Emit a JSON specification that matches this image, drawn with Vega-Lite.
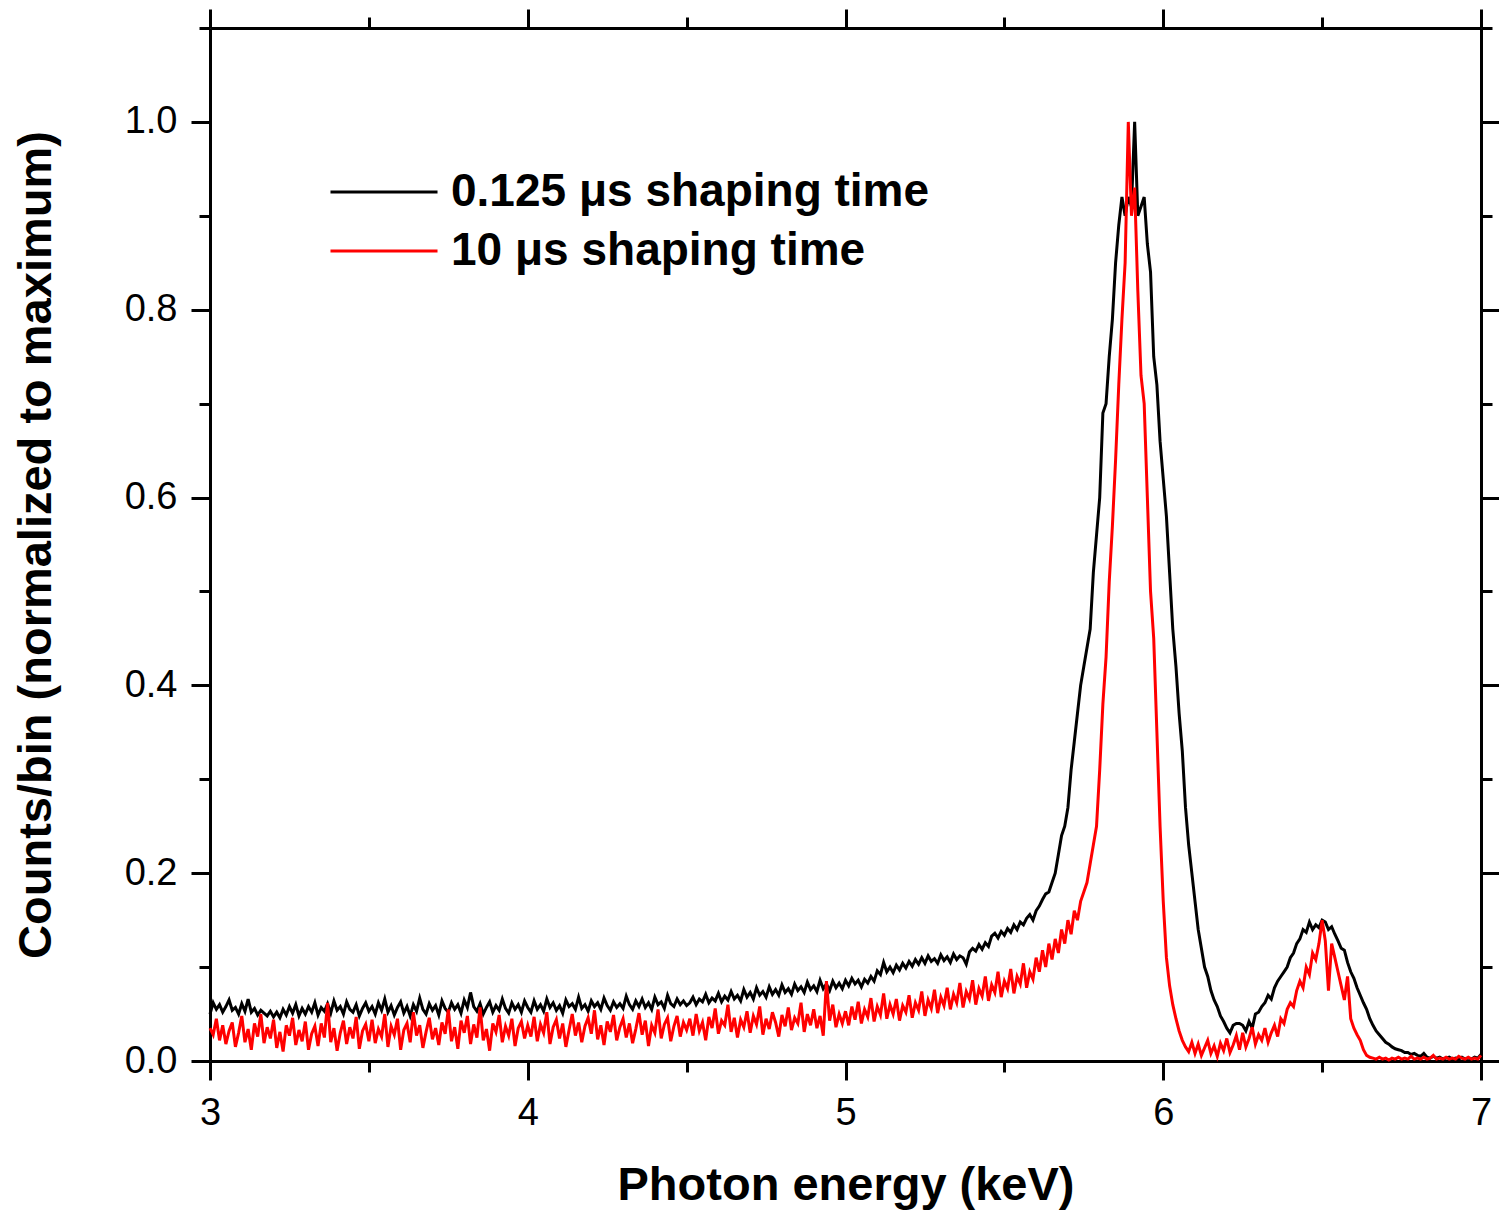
{
"$schema": "https://vega.github.io/schema/vega-lite/v6.json",
"width": 1271, "height": 1033,
"autosize": {"type": "none"},
"padding": {"left": 210, "top": 28, "right": 18, "bottom": 156},
"background": "white",
"config": {
  "view": {"stroke": null},
  "axis": {"domainColor": "black", "domainWidth": 3, "tickColor": "black", "tickWidth": 3, "grid": false,
    "labelFont": "Liberation Sans", "labelFontSize": 38, "labelColor": "black",
    "titleFont": "Liberation Sans", "titleFontSize": 47, "titleFontWeight": "bold", "titleColor": "black"}
},
"data": {"values": [
{"e":3,"k":0.050,"r":0.035},{"e":3.01,"k":0.062,"r":0.028},{"e":3.02,"k":0.055,"r":0.045},{"e":3.03,"k":0.060,"r":0.022},{"e":3.04,"k":0.052,"r":0.038},
{"e":3.05,"k":0.058,"r":0.018},{"e":3.06,"k":0.065,"r":0.032},{"e":3.07,"k":0.054,"r":0.041},{"e":3.08,"k":0.057,"r":0.015},{"e":3.09,"k":0.050,"r":0.030},
{"e":3.1,"k":0.061,"r":0.048},{"e":3.11,"k":0.053,"r":0.020},{"e":3.12,"k":0.066,"r":0.034},{"e":3.13,"k":0.052,"r":0.012},{"e":3.14,"k":0.056,"r":0.040},
{"e":3.15,"k":0.049,"r":0.026},{"e":3.16,"k":0.054,"r":0.050},{"e":3.17,"k":0.051,"r":0.019},{"e":3.18,"k":0.048,"r":0.036},{"e":3.19,"k":0.053,"r":0.024},
{"e":3.2,"k":0.047,"r":0.044},{"e":3.21,"k":0.052,"r":0.014},{"e":3.22,"k":0.046,"r":0.031},{"e":3.23,"k":0.055,"r":0.010},{"e":3.24,"k":0.049,"r":0.038},
{"e":3.25,"k":0.058,"r":0.027},{"e":3.26,"k":0.051,"r":0.046},{"e":3.27,"k":0.060,"r":0.017},{"e":3.28,"k":0.048,"r":0.033},{"e":3.29,"k":0.056,"r":0.021},
{"e":3.3,"k":0.050,"r":0.042},{"e":3.31,"k":0.058,"r":0.012},{"e":3.32,"k":0.052,"r":0.029},{"e":3.33,"k":0.062,"r":0.037},{"e":3.34,"k":0.049,"r":0.016},
{"e":3.35,"k":0.057,"r":0.040},{"e":3.36,"k":0.053,"r":0.025},{"e":3.37,"k":0.061,"r":0.062},{"e":3.38,"k":0.051,"r":0.020},{"e":3.39,"k":0.064,"r":0.035},
{"e":3.4,"k":0.054,"r":0.011},{"e":3.41,"k":0.058,"r":0.030},{"e":3.42,"k":0.050,"r":0.043},{"e":3.43,"k":0.063,"r":0.018},{"e":3.44,"k":0.055,"r":0.036},
{"e":3.45,"k":0.052,"r":0.024},{"e":3.46,"k":0.060,"r":0.047},{"e":3.47,"k":0.048,"r":0.013},{"e":3.48,"k":0.056,"r":0.032},{"e":3.49,"k":0.062,"r":0.039},
{"e":3.5,"k":0.053,"r":0.021},{"e":3.51,"k":0.058,"r":0.044},{"e":3.52,"k":0.050,"r":0.019},{"e":3.53,"k":0.062,"r":0.034},{"e":3.54,"k":0.054,"r":0.026},
{"e":3.55,"k":0.066,"r":0.050},{"e":3.56,"k":0.052,"r":0.015},{"e":3.57,"k":0.059,"r":0.037},{"e":3.58,"k":0.049,"r":0.028},{"e":3.59,"k":0.057,"r":0.045},
{"e":3.6,"k":0.063,"r":0.012},{"e":3.61,"k":0.051,"r":0.033},{"e":3.62,"k":0.058,"r":0.040},{"e":3.63,"k":0.048,"r":0.020},{"e":3.64,"k":0.060,"r":0.052},
{"e":3.65,"k":0.053,"r":0.027},{"e":3.66,"k":0.067,"r":0.038},{"e":3.67,"k":0.055,"r":0.014},{"e":3.68,"k":0.050,"r":0.031},{"e":3.69,"k":0.061,"r":0.046},
{"e":3.7,"k":0.054,"r":0.023},{"e":3.71,"k":0.059,"r":0.035},{"e":3.72,"k":0.049,"r":0.017},{"e":3.73,"k":0.064,"r":0.041},{"e":3.74,"k":0.056,"r":0.029},
{"e":3.75,"k":0.052,"r":0.055},{"e":3.76,"k":0.062,"r":0.021},{"e":3.77,"k":0.055,"r":0.036},{"e":3.78,"k":0.060,"r":0.013},{"e":3.79,"k":0.051,"r":0.043},
{"e":3.8,"k":0.065,"r":0.030},{"e":3.81,"k":0.057,"r":0.048},{"e":3.82,"k":0.073,"r":0.018},{"e":3.83,"k":0.058,"r":0.039},{"e":3.84,"k":0.053,"r":0.025},
{"e":3.85,"k":0.061,"r":0.057},{"e":3.86,"k":0.050,"r":0.022},{"e":3.87,"k":0.057,"r":0.034},{"e":3.88,"k":0.063,"r":0.011},{"e":3.89,"k":0.052,"r":0.040},
{"e":3.9,"k":0.059,"r":0.031},{"e":3.91,"k":0.054,"r":0.049},{"e":3.92,"k":0.066,"r":0.020},{"e":3.93,"k":0.056,"r":0.037},{"e":3.94,"k":0.051,"r":0.027},
{"e":3.95,"k":0.062,"r":0.045},{"e":3.96,"k":0.055,"r":0.016},{"e":3.97,"k":0.060,"r":0.035},{"e":3.98,"k":0.052,"r":0.042},{"e":3.99,"k":0.064,"r":0.024},
{"e":4,"k":0.057,"r":0.038},{"e":4.01,"k":0.052,"r":0.026},{"e":4.02,"k":0.064,"r":0.047},{"e":4.03,"k":0.055,"r":0.021},{"e":4.04,"k":0.060,"r":0.039},
{"e":4.05,"k":0.053,"r":0.030},{"e":4.06,"k":0.066,"r":0.052},{"e":4.07,"k":0.057,"r":0.018},{"e":4.08,"k":0.062,"r":0.036},{"e":4.09,"k":0.054,"r":0.044},
{"e":4.1,"k":0.059,"r":0.024},{"e":4.11,"k":0.051,"r":0.040},{"e":4.12,"k":0.065,"r":0.015},{"e":4.13,"k":0.058,"r":0.033},{"e":4.14,"k":0.061,"r":0.050},
{"e":4.15,"k":0.055,"r":0.027},{"e":4.16,"k":0.068,"r":0.041},{"e":4.17,"k":0.056,"r":0.020},{"e":4.18,"k":0.060,"r":0.037},{"e":4.19,"k":0.053,"r":0.046},
{"e":4.2,"k":0.064,"r":0.029},{"e":4.21,"k":0.058,"r":0.054},{"e":4.22,"k":0.062,"r":0.023},{"e":4.23,"k":0.055,"r":0.038},{"e":4.24,"k":0.067,"r":0.017},
{"e":4.25,"k":0.059,"r":0.042},{"e":4.26,"k":0.054,"r":0.031},{"e":4.27,"k":0.063,"r":0.049},{"e":4.28,"k":0.057,"r":0.022},{"e":4.29,"k":0.061,"r":0.036},
{"e":4.3,"k":0.056,"r":0.045},{"e":4.31,"k":0.069,"r":0.025},{"e":4.32,"k":0.060,"r":0.040},{"e":4.33,"k":0.055,"r":0.019},{"e":4.34,"k":0.064,"r":0.034},
{"e":4.35,"k":0.058,"r":0.051},{"e":4.36,"k":0.066,"r":0.028},{"e":4.37,"k":0.057,"r":0.043},{"e":4.38,"k":0.062,"r":0.016},{"e":4.39,"k":0.055,"r":0.038},
{"e":4.4,"k":0.068,"r":0.030},{"e":4.41,"k":0.060,"r":0.055},{"e":4.42,"k":0.063,"r":0.024},{"e":4.43,"k":0.056,"r":0.039},{"e":4.44,"k":0.070,"r":0.046},
{"e":4.45,"k":0.061,"r":0.021},{"e":4.46,"k":0.058,"r":0.037},{"e":4.47,"k":0.066,"r":0.048},{"e":4.48,"k":0.060,"r":0.026},{"e":4.49,"k":0.064,"r":0.041},
{"e":4.5,"k":0.059,"r":0.033},{"e":4.51,"k":0.062,"r":0.045},{"e":4.52,"k":0.068,"r":0.027},{"e":4.53,"k":0.060,"r":0.050},{"e":4.54,"k":0.066,"r":0.032},
{"e":4.55,"k":0.063,"r":0.041},{"e":4.56,"k":0.071,"r":0.022},{"e":4.57,"k":0.062,"r":0.047},{"e":4.58,"k":0.067,"r":0.035},{"e":4.59,"k":0.064,"r":0.056},
{"e":4.6,"k":0.072,"r":0.029},{"e":4.61,"k":0.063,"r":0.043},{"e":4.62,"k":0.069,"r":0.038},{"e":4.63,"k":0.065,"r":0.060},{"e":4.64,"k":0.074,"r":0.031},
{"e":4.65,"k":0.066,"r":0.046},{"e":4.66,"k":0.070,"r":0.025},{"e":4.67,"k":0.064,"r":0.044},{"e":4.68,"k":0.076,"r":0.036},{"e":4.69,"k":0.068,"r":0.053},
{"e":4.7,"k":0.073,"r":0.030},{"e":4.71,"k":0.066,"r":0.048},{"e":4.72,"k":0.078,"r":0.039},{"e":4.73,"k":0.070,"r":0.058},{"e":4.74,"k":0.074,"r":0.028},
{"e":4.75,"k":0.068,"r":0.045},{"e":4.76,"k":0.079,"r":0.034},{"e":4.77,"k":0.071,"r":0.052},{"e":4.78,"k":0.076,"r":0.041},{"e":4.79,"k":0.070,"r":0.026},
{"e":4.8,"k":0.081,"r":0.049},{"e":4.81,"k":0.073,"r":0.037},{"e":4.82,"k":0.077,"r":0.057},{"e":4.83,"k":0.071,"r":0.033},{"e":4.84,"k":0.082,"r":0.046},
{"e":4.85,"k":0.075,"r":0.040},{"e":4.86,"k":0.079,"r":0.062},{"e":4.87,"k":0.073,"r":0.031},{"e":4.88,"k":0.084,"r":0.050},{"e":4.89,"k":0.076,"r":0.038},
{"e":4.9,"k":0.080,"r":0.055},{"e":4.91,"k":0.074,"r":0.035},{"e":4.92,"k":0.086,"r":0.048},{"e":4.93,"k":0.077,"r":0.027},{"e":4.94,"k":0.082,"r":0.085},
{"e":4.95,"k":0.075,"r":0.043},{"e":4.96,"k":0.085,"r":0.060},{"e":4.97,"k":0.078,"r":0.036},{"e":4.98,"k":0.083,"r":0.050},{"e":4.99,"k":0.077,"r":0.040},
{"e":5,"k":0.086,"r":0.053},{"e":5.01,"k":0.080,"r":0.038},{"e":5.02,"k":0.088,"r":0.058},{"e":5.03,"k":0.082,"r":0.044},{"e":5.04,"k":0.086,"r":0.063},
{"e":5.05,"k":0.079,"r":0.040},{"e":5.06,"k":0.087,"r":0.055},{"e":5.07,"k":0.083,"r":0.047},{"e":5.08,"k":0.090,"r":0.067},{"e":5.09,"k":0.085,"r":0.042},
{"e":5.1,"k":0.096,"r":0.058},{"e":5.11,"k":0.092,"r":0.049},{"e":5.12,"k":0.105,"r":0.072},{"e":5.13,"k":0.095,"r":0.045},{"e":5.14,"k":0.100,"r":0.060},
{"e":5.15,"k":0.094,"r":0.050},{"e":5.16,"k":0.102,"r":0.066},{"e":5.17,"k":0.097,"r":0.043},{"e":5.18,"k":0.104,"r":0.059},{"e":5.19,"k":0.099,"r":0.052},
{"e":5.2,"k":0.106,"r":0.070},{"e":5.21,"k":0.101,"r":0.046},{"e":5.22,"k":0.108,"r":0.062},{"e":5.23,"k":0.103,"r":0.054},{"e":5.24,"k":0.110,"r":0.074},
{"e":5.25,"k":0.104,"r":0.048},{"e":5.26,"k":0.112,"r":0.065},{"e":5.27,"k":0.106,"r":0.056},{"e":5.28,"k":0.109,"r":0.076},{"e":5.29,"k":0.104,"r":0.051},
{"e":5.3,"k":0.113,"r":0.068},{"e":5.31,"k":0.107,"r":0.059},{"e":5.32,"k":0.111,"r":0.078},{"e":5.33,"k":0.105,"r":0.055},{"e":5.34,"k":0.114,"r":0.071},
{"e":5.35,"k":0.108,"r":0.062},{"e":5.36,"k":0.112,"r":0.083},{"e":5.37,"k":0.110,"r":0.057},{"e":5.38,"k":0.103,"r":0.074},{"e":5.39,"k":0.116,"r":0.066},
{"e":5.4,"k":0.120,"r":0.086},{"e":5.41,"k":0.117,"r":0.060},{"e":5.42,"k":0.124,"r":0.077},{"e":5.43,"k":0.119,"r":0.069},{"e":5.44,"k":0.126,"r":0.090},
{"e":5.45,"k":0.122,"r":0.064},{"e":5.46,"k":0.133,"r":0.081},{"e":5.47,"k":0.136,"r":0.073},{"e":5.48,"k":0.131,"r":0.095},{"e":5.49,"k":0.138,"r":0.068},
{"e":5.5,"k":0.134,"r":0.085},{"e":5.51,"k":0.141,"r":0.077},{"e":5.52,"k":0.137,"r":0.098},{"e":5.53,"k":0.145,"r":0.072},{"e":5.54,"k":0.140,"r":0.090},
{"e":5.55,"k":0.148,"r":0.082},{"e":5.56,"k":0.145,"r":0.104},{"e":5.57,"k":0.152,"r":0.078},{"e":5.58,"k":0.156,"r":0.095},{"e":5.59,"k":0.150,"r":0.087},
{"e":5.6,"k":0.160,"r":0.110},{"e":5.61,"k":0.165,"r":0.095},{"e":5.62,"k":0.172,"r":0.118},{"e":5.63,"k":0.178,"r":0.100},{"e":5.64,"k":0.180,"r":0.125},
{"e":5.65,"k":0.190,"r":0.108},{"e":5.66,"k":0.200,"r":0.130},{"e":5.67,"k":0.220,"r":0.115},{"e":5.68,"k":0.240,"r":0.140},{"e":5.69,"k":0.250,"r":0.125},
{"e":5.7,"k":0.270,"r":0.150},{"e":5.71,"k":0.310,"r":0.135},{"e":5.72,"k":0.340,"r":0.160},{"e":5.73,"k":0.370,"r":0.150},{"e":5.74,"k":0.400,"r":0.170},
{"e":5.75,"k":0.420,"r":0.180},{"e":5.76,"k":0.440,"r":0.190},{"e":5.77,"k":0.460,"r":0.210},{"e":5.78,"k":0.520,"r":0.230},{"e":5.79,"k":0.560,"r":0.250},
{"e":5.8,"k":0.600,"r":0.310},{"e":5.81,"k":0.690,"r":0.380},{"e":5.82,"k":0.700,"r":0.430},{"e":5.83,"k":0.750,"r":0.510},{"e":5.84,"k":0.790,"r":0.570},
{"e":5.85,"k":0.850,"r":0.640},{"e":5.86,"k":0.890,"r":0.720},{"e":5.87,"k":0.920,"r":0.790},{"e":5.88,"k":0.900,"r":0.850},{"e":5.89,"k":0.920,"r":1.000},
{"e":5.9,"k":0.910,"r":0.900},{"e":5.91,"k":1.000,"r":0.930},{"e":5.92,"k":0.900,"r":0.820},{"e":5.93,"k":0.910,"r":0.730},{"e":5.94,"k":0.920,"r":0.700},
{"e":5.95,"k":0.870,"r":0.600},{"e":5.96,"k":0.840,"r":0.500},{"e":5.97,"k":0.750,"r":0.450},{"e":5.98,"k":0.720,"r":0.350},{"e":5.99,"k":0.660,"r":0.250},
{"e":6,"k":0.620,"r":0.170},{"e":6.01,"k":0.580,"r":0.110},{"e":6.02,"k":0.520,"r":0.080},{"e":6.03,"k":0.460,"r":0.060},{"e":6.04,"k":0.420,"r":0.045},
{"e":6.05,"k":0.370,"r":0.032},{"e":6.06,"k":0.330,"r":0.022},{"e":6.07,"k":0.270,"r":0.015},{"e":6.08,"k":0.230,"r":0.010},{"e":6.09,"k":0.200,"r":0.020},
{"e":6.1,"k":0.170,"r":0.008},{"e":6.11,"k":0.140,"r":0.018},{"e":6.12,"k":0.120,"r":0.006},{"e":6.13,"k":0.100,"r":0.014},{"e":6.14,"k":0.090,"r":0.022},
{"e":6.15,"k":0.075,"r":0.008},{"e":6.16,"k":0.065,"r":0.016},{"e":6.17,"k":0.058,"r":0.005},{"e":6.18,"k":0.048,"r":0.019},{"e":6.19,"k":0.042,"r":0.011},
{"e":6.2,"k":0.035,"r":0.024},{"e":6.21,"k":0.030,"r":0.009},{"e":6.22,"k":0.038,"r":0.017},{"e":6.23,"k":0.040,"r":0.027},{"e":6.24,"k":0.040,"r":0.012},
{"e":6.25,"k":0.038,"r":0.030},{"e":6.26,"k":0.032,"r":0.015},{"e":6.27,"k":0.042,"r":0.024},{"e":6.28,"k":0.035,"r":0.036},{"e":6.29,"k":0.050,"r":0.018},
{"e":6.3,"k":0.052,"r":0.028},{"e":6.31,"k":0.058,"r":0.022},{"e":6.32,"k":0.062,"r":0.035},{"e":6.33,"k":0.070,"r":0.020},{"e":6.34,"k":0.066,"r":0.030},
{"e":6.35,"k":0.078,"r":0.038},{"e":6.36,"k":0.085,"r":0.026},{"e":6.37,"k":0.090,"r":0.045},{"e":6.38,"k":0.095,"r":0.040},{"e":6.39,"k":0.100,"r":0.055},
{"e":6.4,"k":0.110,"r":0.062},{"e":6.41,"k":0.115,"r":0.058},{"e":6.42,"k":0.125,"r":0.075},{"e":6.43,"k":0.130,"r":0.085},{"e":6.44,"k":0.140,"r":0.078},
{"e":6.45,"k":0.137,"r":0.100},{"e":6.46,"k":0.148,"r":0.092},{"e":6.47,"k":0.140,"r":0.115},{"e":6.48,"k":0.145,"r":0.108},{"e":6.49,"k":0.142,"r":0.125},
{"e":6.5,"k":0.150,"r":0.150},{"e":6.51,"k":0.148,"r":0.128},{"e":6.52,"k":0.140,"r":0.075},{"e":6.53,"k":0.143,"r":0.125},{"e":6.54,"k":0.135,"r":0.110},
{"e":6.55,"k":0.128,"r":0.095},{"e":6.56,"k":0.120,"r":0.080},{"e":6.57,"k":0.118,"r":0.065},{"e":6.58,"k":0.105,"r":0.090},{"e":6.59,"k":0.095,"r":0.045},
{"e":6.6,"k":0.088,"r":0.035},{"e":6.61,"k":0.078,"r":0.028},{"e":6.62,"k":0.070,"r":0.022},{"e":6.63,"k":0.062,"r":0.012},{"e":6.64,"k":0.055,"r":0.006},
{"e":6.65,"k":0.045,"r":0.004},{"e":6.66,"k":0.038,"r":0.003},{"e":6.67,"k":0.032,"r":0.002},{"e":6.68,"k":0.028,"r":0.004},{"e":6.69,"k":0.024,"r":0.002},
{"e":6.7,"k":0.020,"r":0.003},{"e":6.71,"k":0.018,"r":0.001},{"e":6.72,"k":0.015,"r":0.003},{"e":6.73,"k":0.013,"r":0.002},{"e":6.74,"k":0.012,"r":0.004},
{"e":6.75,"k":0.011,"r":0.002},{"e":6.76,"k":0.009,"r":0.003},{"e":6.77,"k":0.009,"r":0.002},{"e":6.78,"k":0.007,"r":0.005},{"e":6.79,"k":0.008,"r":0.002},
{"e":6.8,"k":0.006,"r":0.003},{"e":6.81,"k":0.005,"r":0.002},{"e":6.82,"k":0.008,"r":0.004},{"e":6.83,"k":0.004,"r":0.002},{"e":6.84,"k":0.003,"r":0.003},
{"e":6.85,"k":0.005,"r":0.006},{"e":6.86,"k":0.003,"r":0.002},{"e":6.87,"k":0.004,"r":0.003},{"e":6.88,"k":0.002,"r":0.002},{"e":6.89,"k":0.003,"r":0.004},
{"e":6.9,"k":0.004,"r":0.002},{"e":6.91,"k":0.002,"r":0.003},{"e":6.92,"k":0.003,"r":0.002},{"e":6.93,"k":0.002,"r":0.005},{"e":6.94,"k":0.004,"r":0.003},
{"e":6.95,"k":0.002,"r":0.002},{"e":6.96,"k":0.003,"r":0.004},{"e":6.97,"k":0.002,"r":0.002},{"e":6.98,"k":0.004,"r":0.003},{"e":6.99,"k":0.003,"r":0.002},
{"e":7,"k":0.007,"r":0.006}
]},
"transform": [{"fold": ["k", "r"], "as": ["s", "v"]}],
"layer": [
 {
  "mark": {"type": "line", "strokeWidth": 3, "strokeJoin": "miter"},
  "encoding": {
   "x": {"field": "e", "type": "quantitative",
     "scale": {"domain": [3, 7], "nice": false, "zero": false},
     "axis": {"orient": "bottom", "values": [3,3.5,4,4.5,5,5.5,6,6.5,7],
       "tickSize": {"condition": {"test": "datum.value % 1 === 0", "value": 19}, "value": 11},
       "labelExpr": "datum.value % 1 === 0 ? format(datum.value, 'd') : ''",
       "labelPadding": 14, "labelFlush": false, "labelOverlap": false,
       "title": "Photon energy (keV)", "titlePadding": 30}},
   "y": {"field": "v", "type": "quantitative",
     "scale": {"domain": [0, 1.1], "nice": false},
     "axis": {"orient": "left", "values": [0,0.1,0.2,0.3,0.4,0.5,0.6,0.7,0.8,0.9,1.0,1.1],
       "tickSize": {"condition": {"test": "round(datum.value*10) % 2 === 0", "value": 19}, "value": 11},
       "labelExpr": "round(datum.value*10) % 2 === 0 ? format(datum.value, '.1f') : ''",
       "labelPadding": 14, "labelFlush": false, "labelOverlap": false,
       "title": "Counts/bin (normalized to maximum)", "titlePadding": 64}},
   "color": {"field": "s", "type": "nominal",
     "scale": {"domain": ["k", "r"], "range": ["#000000", "#ff0000"]},
     "legend": {"orient": "none", "legendX": 151, "legendY": 141, "title": null, "padding": 0,
       "symbolType": "M-4,0L4,0", "symbolSize": 716, "symbolStrokeWidth": 3,
       "labelFont": "Liberation Sans", "labelFontSize": 46, "labelFontWeight": "bold", "labelColor": "black",
       "labelOffset": 44, "rowPadding": 13, "labelLimit": 0,
       "labelExpr": "datum.value === 'k' ? '0.125 μs shaping time' : '10 μs shaping time'"}}
  }
 },
 {
  "mark": {"type": "line", "opacity": 0},
  "encoding": {
   "x": {"field": "e", "type": "quantitative",
     "axis": {"orient": "top", "values": [3,3.5,4,4.5,5,5.5,6,6.5,7], "labels": false, "title": null,
       "tickSize": {"condition": {"test": "datum.value % 1 === 0", "value": 19}, "value": 11}}},
   "y": {"field": "v", "type": "quantitative",
     "axis": {"orient": "right", "values": [0,0.1,0.2,0.3,0.4,0.5,0.6,0.7,0.8,0.9,1.0,1.1], "labels": false, "title": null,
       "tickSize": {"condition": {"test": "round(datum.value*10) % 2 === 0", "value": 19}, "value": 11}}},
   "detail": {"field": "s"}
  }
 }
]
}
